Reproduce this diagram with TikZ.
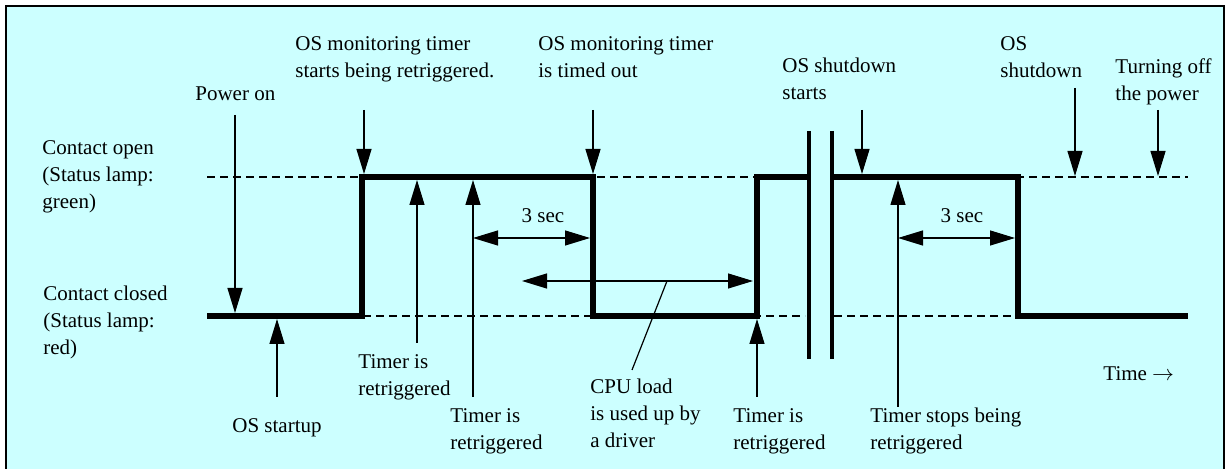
\documentclass[tikz,border=0pt]{standalone}
\usepackage{fontspec}
\setmainfont{Liberation Serif}
\usetikzlibrary{arrows.meta}
\definecolor{lampbg}{RGB}{204,255,255}

\begin{document}
\begin{tikzpicture}[x=0.5pt, y=-0.5pt,
        lbl/.style={anchor=north west, inner sep=0pt, align=left, font=\fontsize{10.5}{13.5}\selectfont},
        pin/.style={line width=0.6pt, -{Triangle[length=12.5pt, width=7.5pt]}},
        span/.style={line width=0.6pt, {Triangle[length=12.5pt, width=7.5pt]}-{Triangle[length=12.5pt, width=7.5pt]}},
        level/.style={line width=0.75pt, dash pattern=on 4pt off 2.5pt},
        signal/.style={line width=3pt, line join=miter},
        cut/.style={line width=2pt}]
        \useasboundingbox (0,0) rectangle (1225,469);
        \clip (0,0) rectangle (1225,469);
        \draw[line width=1.25pt, fill=lampbg] (6,6) rectangle (1224,474);

        % levels
        \node[lbl] (open) at (42,140) {Contact open\\(Status lamp:\\green)};
        \node[lbl] (closed) at (43,286) {Contact closed\\(Status lamp:\\red)};
        \draw[level] (207,177) -- (805,177) (834,177) -- (1188,177);
        \draw[level] (207,316) -- (805,316) (834,316) -- (1188,316);

        % signal
        \coordinate (w0) at (207,316);
        \coordinate (w1) at (362,316);
        \coordinate (w2) at (362,177);
        \coordinate (w3) at (593,177);
        \coordinate (w4) at (593,316);
        \coordinate (w5) at (757,316);
        \coordinate (w6) at (757,177);
        \coordinate (w7) at (809,177);
        \coordinate (w8) at (832,177);
        \coordinate (w9) at (1018,177);
        \coordinate (w10) at (1018,316);
        \coordinate (w11) at (1188,316);
        \draw[signal] (w0) -- (w1) -- (w2) -- (w3) -- (w4) -- (w5) -- (w6) -- (w7);
        \draw[signal] (w8) -- (w9) -- (w10) -- (w11);
        \draw[cut] (809,131) -- (809,359);
        \draw[cut] (832,131) -- (832,359);

        % events above
        \node[lbl] (power) at (195,86) {Power on};
        \node[lbl] (osmon) at (295,36) {OS monitoring timer\\starts being retriggered.};
        \node[lbl] (timeout) at (538,36) {OS monitoring timer\\is timed out};
        \node[lbl] (sdstart) at (782,58) {OS shutdown\\starts};
        \node[lbl] (osdown) at (1000,36) {OS\\shutdown};
        \node[lbl] (poweroff) at (1115,58) {Turning off\\the power};
        \coordinate (p1) at (235,115);
        \coordinate (p2) at (364,110);
        \coordinate (p3) at (593,110);
        \coordinate (p4) at (862,110);
        \coordinate (p5) at (1075,88);
        \coordinate (p6) at (1158,110);
        \draw[pin] (p1) -- (235,313);
        \draw[pin] (p2) -- (364,174);
        \draw[pin] (p3) -- (593,174);
        \draw[pin] (p4) -- (862,174);
        \draw[pin] (p5) -- (1075,176);
        \draw[pin] (p6) -- (1158,176);

        % events below
        \node[lbl] (startup) at (232,418) {OS startup};
        \node[lbl] (retrig1) at (358,354) {Timer is\\retriggered};
        \node[lbl] (retrig2) at (450,408) {Timer is\\retriggered};
        \node[lbl] (retrig3) at (733,408) {Timer is\\retriggered};
        \node[lbl] (stops) at (870,408) {Timer stops being\\retriggered};
        \node[lbl] (cpu) at (590,379) {CPU load\\is used up by\\a driver};
        \coordinate (q1) at (277,397);
        \coordinate (q2) at (417,343);
        \coordinate (q3) at (473,397);
        \coordinate (q4) at (757,397);
        \coordinate (q5) at (898,407);
        \draw[pin] (q1) -- (277,319);
        \draw[pin] (q2) -- (417,180);
        \draw[pin] (q3) -- (473,180);
        \draw[pin] (q4) -- (757,319);
        \draw[pin] (q5) -- (898,180);

        % durations
        \node[anchor=base, inner sep=0pt, font=\fontsize{10.5}{13.5}\selectfont] (sec1) at (543,223) {3 sec};
        \node[anchor=base, inner sep=0pt, font=\fontsize{10.5}{13.5}\selectfont] (sec2) at (962,223) {3 sec};
        \draw[span] (473,238) -- (590,238);
        \draw[span] (898,238) -- (1015,238);
        \coordinate (c1) at (667,281);
        \draw[span] (522,281) -- (753,281);
        \draw[line width=0.6pt] (c1) -- (632,370);

        \node[lbl] (time) at (1103,366) {Time $\rightarrow$};
    \end{tikzpicture}
\end{document}
